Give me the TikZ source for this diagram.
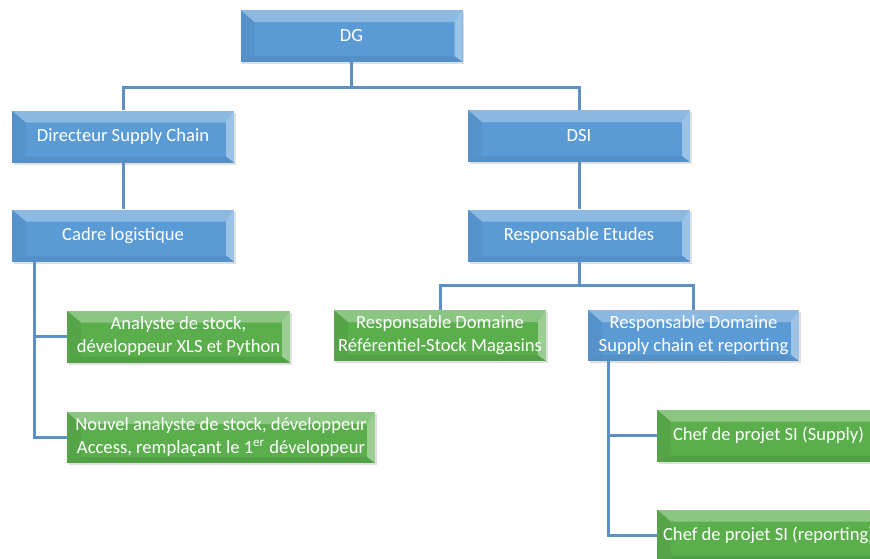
\documentclass[tikz,border=0pt]{standalone}
\usepackage{fontspec}
\setmainfont{Carlito}
\usetikzlibrary{shadows}
\definecolor{boxblue}{HTML}{5B9BD5}
\definecolor{boxgreen}{HTML}{5AAE4C}
\definecolor{linkblue}{HTML}{5F8FC8}
\tikzset{
  bevel/.style={path picture={
    \fill[white,opacity=0.30] (path picture bounding box.north west) -- (path picture bounding box.north east)
      -- ([xshift=-4pt,yshift=-6pt]path picture bounding box.north east) -- ([xshift=7pt,yshift=-6pt]path picture bounding box.north west) -- cycle;
    \fill[white,opacity=0.40] (path picture bounding box.north east) -- (path picture bounding box.south east)
      -- ([xshift=-4pt,yshift=3pt]path picture bounding box.south east) -- ([xshift=-4pt,yshift=-6pt]path picture bounding box.north east) -- cycle;
    \fill[black,opacity=0.07] (path picture bounding box.south west) -- (path picture bounding box.south east)
      -- ([xshift=-4pt,yshift=3pt]path picture bounding box.south east) -- ([xshift=7pt,yshift=3pt]path picture bounding box.south west) -- cycle;
    \fill[black,opacity=0.05] (path picture bounding box.north west) -- (path picture bounding box.south west)
      -- ([xshift=7pt,yshift=3pt]path picture bounding box.south west) -- ([xshift=7pt,yshift=-6pt]path picture bounding box.north west) -- cycle;
  }},
  bluebox/.style={bevel, fill=boxblue, text=white, inner sep=0pt, align=center,
    font=\fontsize{9.3}{11.5}\selectfont, minimum width=111pt, minimum height=26pt,
    drop shadow={opacity=0.25, shadow xshift=0.8pt, shadow yshift=-1pt}},
  greenbox/.style={bluebox, fill=boxgreen},
  link/.style={draw=linkblue, line width=1.5pt}
}
\begin{document}
\begin{tikzpicture}[x=0.5pt, y=-0.5pt]
\useasboundingbox (0,0) rectangle (870,558);
% top level
\node[bluebox] (dg) at (351.5,36) {DG};
\node[bluebox] (dir) at (123,136.5) {Directeur Supply Chain};
\node[bluebox] (dsi) at (579,136) {DSI};
% supply chain side
\node[bluebox] (cadre) at (123,235.5) {Cadre logistique};
\node[greenbox, minimum width=111.5pt] (ana) at (178.5,336.5) {Analyste de stock,\\développeur XLS et Python};
\node[greenbox, minimum width=154pt, minimum height=25.5pt] (nouv) at (221,437.5) {Nouvel analyste de stock, développeur\\Access, remplaçant le 1\textsuperscript{er} développeur};
% DSI side
\node[bluebox] (etudes) at (579,235.5) {Responsable Etudes};
\node[greenbox, minimum width=106pt, minimum height=25.5pt] (domref) at (440,335.5) {Responsable Domaine\\Référentiel-Stock Magasins};
\node[bluebox, minimum width=105.5pt, minimum height=25.5pt] (domsup) at (693.5,335.5) {Responsable Domaine\\Supply chain et reporting};
\node[greenbox, minimum width=111.5pt] (chefsup) at (768.5,435.5) {Chef de projet SI (Supply)};
\node[greenbox, minimum width=111.5pt] (chefrep) at (768.5,535.5) {Chef de projet SI (reporting)};
% connectors
\coordinate (top) at (351.5,87);
\coordinate (mid) at (579,285);
\draw[link] (dg.south) -- (top);
\draw[link] (dir.north) |- (top) -| (dsi.north);
\draw[link] (dir) -- (cadre);
\draw[link] ([xshift=11.5pt]cadre.south west) |- (ana.west);
\draw[link] ([xshift=11.5pt]cadre.south west) |- (nouv.west);
\draw[link] (dsi) -- (etudes);
\draw[link] (etudes.south) -- (mid);
\draw[link] (domref.north) |- (mid) -| (domsup.north);
\draw[link] ([xshift=10.5pt]domsup.south west) |- (chefsup.west);
\draw[link] ([xshift=10.5pt]domsup.south west) |- (chefrep.west);
\end{tikzpicture}
\end{document}
